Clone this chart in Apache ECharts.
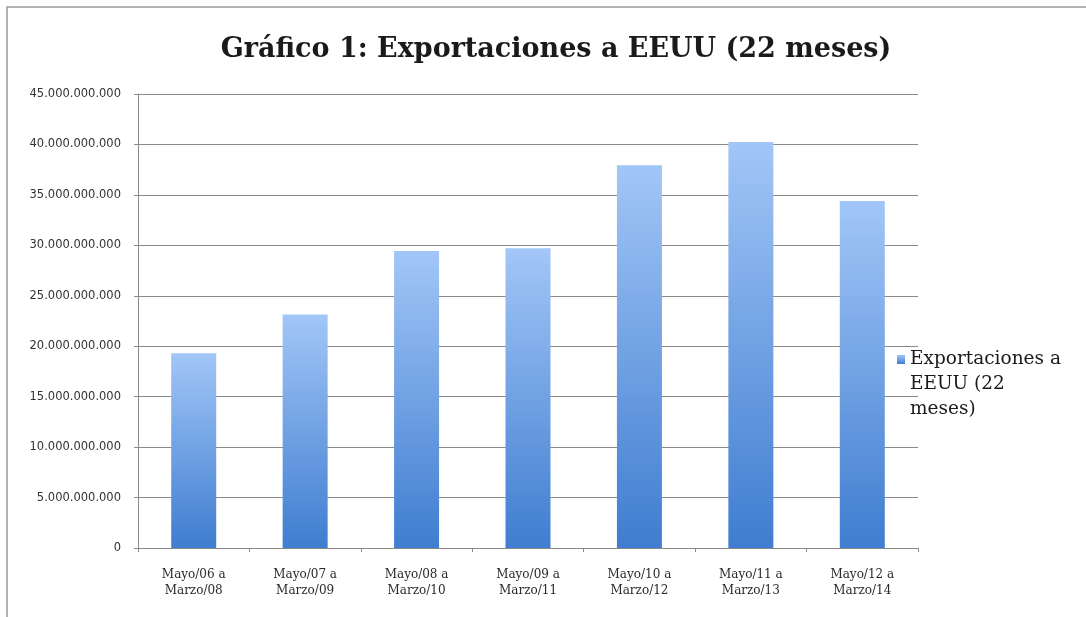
<!DOCTYPE html>
<html>
<head>
<meta charset="utf-8">
<script src="https://cdn.jsdelivr.net/npm/echarts@6/dist/echarts.min.js"></script>
<style>
  html, body { margin: 0; padding: 0; background: #ffffff; }
  #chart { width: 1086px; height: 617px; }
</style>
</head>
<body>
<div id="chart"></div>
<script>
// Periods (22 months each) and export totals to the US
const categories = [
  'Mayo/06 a\nMarzo/08',
  'Mayo/07 a\nMarzo/09',
  'Mayo/08 a\nMarzo/10',
  'Mayo/09 a\nMarzo/11',
  'Mayo/10 a\nMarzo/12',
  'Mayo/11 a\nMarzo/13',
  'Mayo/12 a\nMarzo/14'
];
const exportValues = [
  19300000000, 23150000000, 29450000000, 29700000000,
  37950000000, 40250000000, 34400000000
];
const seriesName = 'Exportaciones a EEUU (22 meses)';
// Legend text wrapped over three lines; two blank lines on top keep the
// first line level with the legend swatch (the block is centred on it).
const legendLabel = '\n\nExportaciones a\nEEUU (22\nmeses)';
const titleText = 'Gráfico 1: Exportaciones a EEUU (22 meses)';
const yMin = 0, yMax = 45000000000, yStep = 5000000000;

// Thousands separated with dots, e.g. 45.000.000.000
function dotThousands(v) {
  return String(Math.round(v)).replace(/\B(?=(\d{3})+(?!\d))/g, '.');
}

const chart = echarts.init(document.getElementById('chart'), null, { renderer: 'canvas' });

chart.setOption({
  backgroundColor: '#ffffff',
  animation: false,
  title: {
    text: titleText,
    left: 551,
    top: 31,
    textAlign: 'center',
    textStyle: {
      fontFamily: 'DejaVu Serif',
      fontWeight: 'bold',
      fontSize: 27,
      color: '#1a1a1a'
    }
  },
  legend: {
    data: [seriesName],
    left: 897,
    top: 297,
    padding: 0,
    itemWidth: 8,
    itemHeight: 9,
    icon: 'rect',
    formatter: function () { return legendLabel; },
    textStyle: {
      fontFamily: 'DejaVu Serif',
      fontSize: 18.5,
      lineHeight: 25,
      color: '#1a1a1a'
    }
  },
  grid: {
    left: 138,
    right: 168,
    top: 94,
    bottom: 69,
    containLabel: false
  },
  xAxis: {
    type: 'category',
    data: categories,
    axisLine: { lineStyle: { color: '#8a8a8a', width: 1 } },
    axisTick: { show: true, length: 4, lineStyle: { color: '#8a8a8a' } },
    axisLabel: {
      fontFamily: 'DejaVu Serif',
      fontSize: 12,
      lineHeight: 16,
      color: '#2a2a2a',
      margin: 19
    }
  },
  yAxis: {
    type: 'value',
    min: yMin,
    max: yMax,
    interval: yStep,
    axisLine: { show: true, lineStyle: { color: '#8a8a8a', width: 1 } },
    axisTick: { show: true, length: 4, lineStyle: { color: '#8a8a8a' } },
    splitLine: { lineStyle: { color: '#8a8a8a', width: 1.2 } },
    axisLabel: {
      formatter: dotThousands,
      fontFamily: 'DejaVu Sans',
      fontSize: 11.5,
      color: '#333333',
      margin: 17
    }
  },
  series: [{
    name: seriesName,
    type: 'bar',
    data: exportValues,
    barWidth: 45,
    itemStyle: {
      color: new echarts.graphic.LinearGradient(0, 0, 0, 1, [
        { offset: 0, color: '#a2c6f7' },
        { offset: 1, color: '#3f7dd0' }
      ])
    }
  }],
  graphic: [{
    type: 'rect',
    shape: { x: 7, y: 7, width: 1120, height: 700 },
    style: { fill: 'none', stroke: '#9a9a9a', lineWidth: 1.5 },
    silent: true,
    z: 100
  }]
});
</script>
</body>
</html>
